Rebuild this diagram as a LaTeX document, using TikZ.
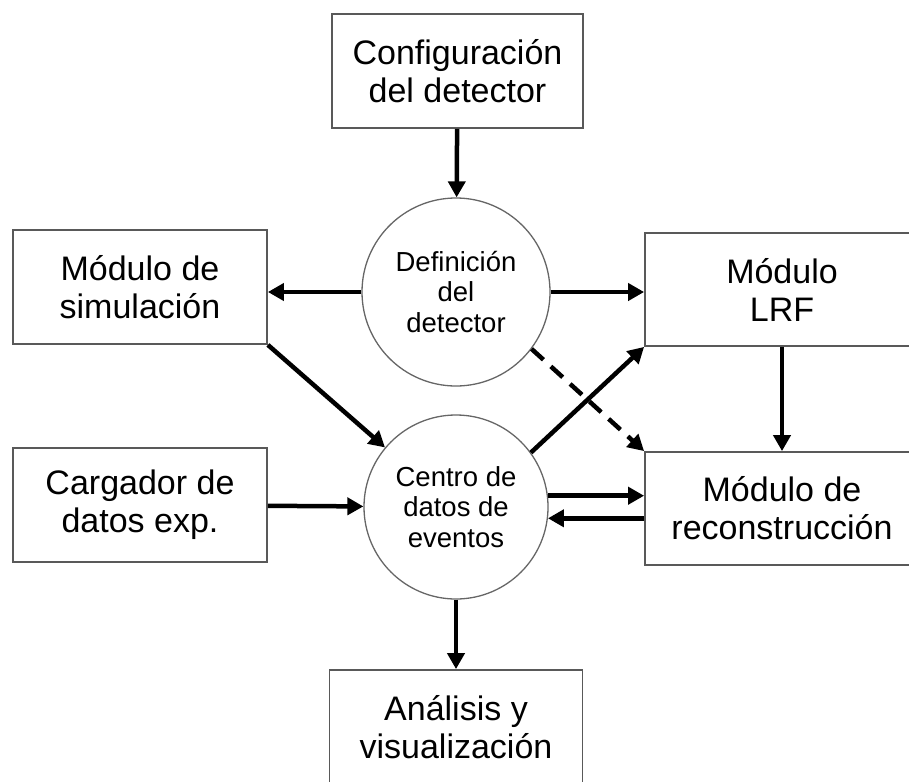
\documentclass[tikz,border=0pt]{standalone}
\usepackage{fontspec}
\setmainfont{Liberation Sans}
\usetikzlibrary{arrows.meta}
\begin{document}
\begin{tikzpicture}[x=1pt,y=-1pt,
 caja/.style={draw=black!65,line width=1.8pt,inner sep=0pt,align=center,minimum height=114pt,font=\fontsize{34}{38}\selectfont},
 bola/.style={circle,draw=black!60,line width=1.3pt,inner sep=0pt,align=center,font=\fontsize{27.5}{30.5}\selectfont},
 flecha/.style={line width=4.5pt,-{Triangle[length=16pt,width=17pt]}}]
 \useasboundingbox (0,0) rectangle (909,781);
 \clip (0,0) rectangle (909,781);
 \node[caja,minimum width=251pt] (config) at (457.5,71) {Configuración\\del detector};
 \node[bola,minimum size=188pt] (defin) at (456,292) {Definición\\del\\detector};
 \node[caja,minimum width=254pt] (simul) at (140,287) {Módulo de\\simulación};
 \node[caja,minimum width=274pt,minimum height=113pt] (lrf) at (782,289.5) {Módulo\\LRF};
 \node[caja,minimum width=254pt] (carga) at (140,505) {Cargador de\\datos exp.};
 \node[bola,minimum size=184pt] (centro) at (456,507) {Centro de\\datos de\\eventos};
 \node[caja,minimum width=274pt,minimum height=113pt] (recon) at (782,508.5) {Módulo de\\reconstrucción};
 \node[caja,minimum width=253pt] (analisis) at (456,727) {Análisis y\\visualización};
 \draw[flecha] (config) -- (defin);
 \draw[flecha] (defin.west) -- (defin.west -| simul.east);
 \draw[flecha] (defin.east) -- (defin.east -| lrf.west);
 \draw[flecha] (simul.south east) -- (centro.140);
 \draw[flecha] (carga) -- (centro);
 \draw[flecha] (centro.36) -- (lrf.south west);
 \draw[flecha,dash pattern=on 16pt off 10pt] (defin.-37) -- (recon.north west);
 \draw[flecha] (lrf) -- (recon);
 \draw[flecha] (centro.7) -- (centro.7 -| recon.west);
 \draw[flecha] (centro.-7 -| recon.west) -- (centro.-7);
 \draw[flecha] (centro) -- (analisis);
\end{tikzpicture}
\end{document}
